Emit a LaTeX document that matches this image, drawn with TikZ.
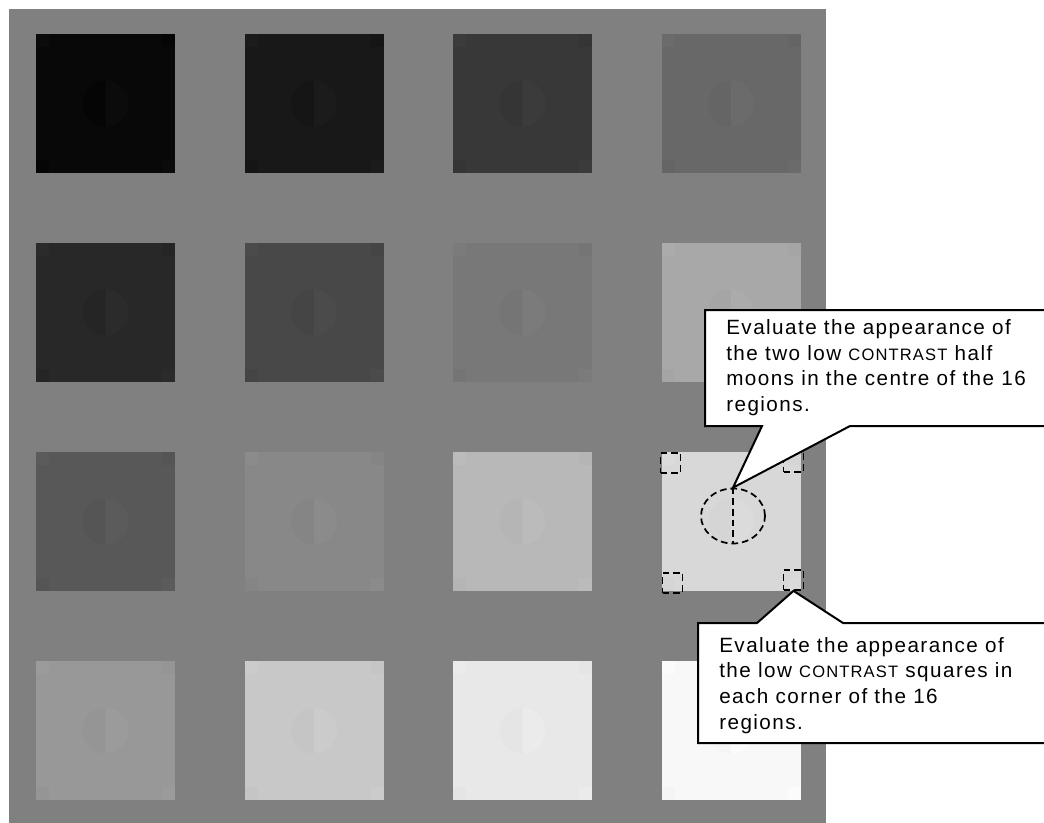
\documentclass[tikz,border=0pt]{standalone}
\usepackage{fontspec}
\setmainfont{Liberation Sans}[LetterSpace=7]
\usepackage{tikz}
\usetikzlibrary{positioning,calc,shapes.geometric}
\definecolor{panelcol}{HTML}{808080}
\newcommand{\lowcaps}[1]{{\fontsize{12.4}{12}\selectfont #1}}

\begin{document}
\begin{tikzpicture}[
   x=0.75pt, y=-0.75pt,
   font=\fontsize{15.5}{19.2}\selectfont,
   patch/.style={minimum size=104.25pt,inner sep=0pt,outer sep=0pt,fill=#1},
   dashmark/.style={draw=black,dash pattern=on 5pt off 3pt,line width=1.3pt},
   cornermark/.style={dashmark,minimum size=15pt,inner sep=0pt},
   moonmark/.style={dashmark,ellipse,minimum width=48pt,minimum height=41.25pt,inner sep=0pt},
   callout/.style={draw=black,fill=white,line width=1.5pt},
   note/.style={anchor=north west,inner sep=0pt,align=left},
]
\useasboundingbox (0,0) rectangle (1044,823);
\fill[panelcol] (9,9) rectangle (826,823);

% the 16 regions
\foreach \c/\r/\k in {0/0/0,1/0/1,2/0/3,3/0/6,
                      0/1/2,1/1/4,2/1/7,3/1/10,
                      0/2/5,1/2/8,2/2/11,3/2/13,
                      0/3/9,1/3/12,2/3/14,3/3/15}{
  \pgfmathtruncatemacro\lv{16*\k+8}
  \pgfmathtruncatemacro\lo{max(\lv-3,0)}
  \pgfmathtruncatemacro\hi{min(\lv+3,255)}
  \definecolor{sqcol}{RGB}{\lv,\lv,\lv}
  \definecolor{locol}{RGB}{\lo,\lo,\lo}
  \definecolor{hicol}{RGB}{\hi,\hi,\hi}
  \node[patch=sqcol] (p\c\r) at ({105.5+208.5*\c},{103.5+209*\r}) {};
  % half moons
  \fill[locol] (p\c\r.center) ++(0,-23) arc[start angle=-90,end angle=-270,radius=23] -- cycle;
  \fill[hicol] (p\c\r.center) ++(0,-23) arc[start angle=-90,end angle=90,radius=23] -- cycle;
  % corner squares
  \fill[hicol] (p\c\r.north west) rectangle ++(13,13);
  \fill[locol] (p\c\r.north east) rectangle ++(-13,13);
  \fill[locol] (p\c\r.south west) rectangle ++(13,-13);
  \fill[hicol] (p\c\r.south east) rectangle ++(-13,-13);
}

% markers on one region
\node[cornermark] (cnrTL) at ($(p32.north west)+(9,11)$) {};
\node[cornermark] (cnrTR) at ($(p32.north east)+(-7,10)$) {};
\node[cornermark] (cnrBL) at ($(p32.south west)+(11,-8)$) {};
\node[cornermark] (cnrBR) at ($(p32.south east)+(-7,-11)$) {};
\node[moonmark] (moon) at ($(p32.center)+(2,-5.5)$) {};
\draw[dashmark] (moon.north) -- (moon.south);

% callouts
\coordinate (c1) at (705,310);
\draw[callout] (c1) -- ++(350,0) -- ++(0,116) -- ++(-205,0) -- (moon.north)
      -- ($(c1)+(57,116)$) -- ($(c1)+(0,116)$) -- cycle;
\node[note] (note1) at ($(c1)+(21,9.5)$)
      {Evaluate the appearance of\\the two low \lowcaps{CONTRAST} half\\moons in the centre of the 16\\regions.};

\coordinate (c2) at (698,623);
\draw[callout] (c2) -- ++(59,0) -- (cnrBR.south) -- ($(c2)+(145,0)$) -- ++(212,0)
      -- ++(0,120) -- ($(c2)+(0,120)$) -- cycle;
\node[note] (note2) at ($(c2)+(21,14)$)
      {Evaluate the appearance of\\the low \lowcaps{CONTRAST} squares in\\each corner of the 16\\regions.};

\end{tikzpicture}
\end{document}
